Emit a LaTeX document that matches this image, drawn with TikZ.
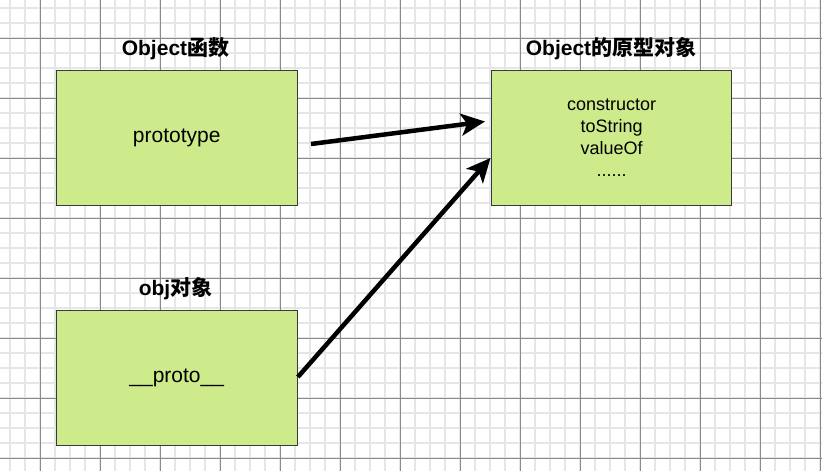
\documentclass[tikz,border=0pt]{standalone}
\usepackage{fontspec}
\setmainfont{Liberation Sans}
\newfontfamily\cjk{Noto Sans CJK SC}
\usetikzlibrary{arrows.meta}
\tikzset{
  objbox/.style={draw=boxline, fill=boxfill, line width=1.4pt, minimum width=241pt, minimum height=135pt, inner sep=0pt, anchor=north west, align=center},
  ttl/.style={font=\fontsize{21}{25}\selectfont\bfseries, inner sep=0pt, anchor=center},
  link/.style={line width=4.5pt, -{Stealth[length=24pt, width=22pt, inset=6pt]}},
}
\definecolor{boxfill}{HTML}{CDEB8B}
\definecolor{boxline}{HTML}{36393D}
\definecolor{gridminor}{HTML}{E6E6E6}
\definecolor{gridmajor}{HTML}{8A8A8A}
\begin{document}
\begin{tikzpicture}[x=1pt,y=-1pt]
\useasboundingbox (0,0) rectangle (822,471);
\fill[white] (0,0) rectangle (822,471);
% minor grid
\foreach \i in {0,...,55} {
  \draw[gridminor, line width=1.3pt] ({10+15*\i},0) -- ({10+15*\i},471);
}
\foreach \j in {0,...,31} {
  \draw[gridminor, line width=1.3pt] (0,{8+15*\j}) -- (822,{8+15*\j});
}
% major grid
\foreach \i in {0,...,13} {
  \draw[gridmajor, line width=1pt] ({40+60*\i},0) -- ({40+60*\i},471);
}
\foreach \j in {0,...,7} {
  \draw[gridmajor, line width=1pt] (0,{38+60*\j}) -- (822,{38+60*\j});
}
% boxes
\node[objbox, font=\fontsize{21}{25}\selectfont] (fn) at (55.5,69.5) {prototype};
\node[objbox, minimum width=240pt, font=\fontsize{18}{22}\selectfont] (proto) at (491,69.5) {constructor\\toString\\valueOf\\......};
\node[objbox, font=\fontsize{21}{25}\selectfont] (obj) at (55.5,309.5) {\_\_proto\_\_};
% titles
\node[ttl] (t1) at (175.5,49) {Object{\cjk 函数}};
\node[ttl] (t2) at (611,49) {Object{\cjk 的原型对象}};
\node[ttl] (t3) at (175.5,289) {obj{\cjk 对象}};
% connectors
\coordinate (s1) at (311,144);
\coordinate (e1) at (485,121.5);
\coordinate (e2) at (490.5,158);
\draw[link] (s1) -- (e1);
\draw[link] (obj.east |- 0,377) -- (e2);
\end{tikzpicture}
\end{document}
